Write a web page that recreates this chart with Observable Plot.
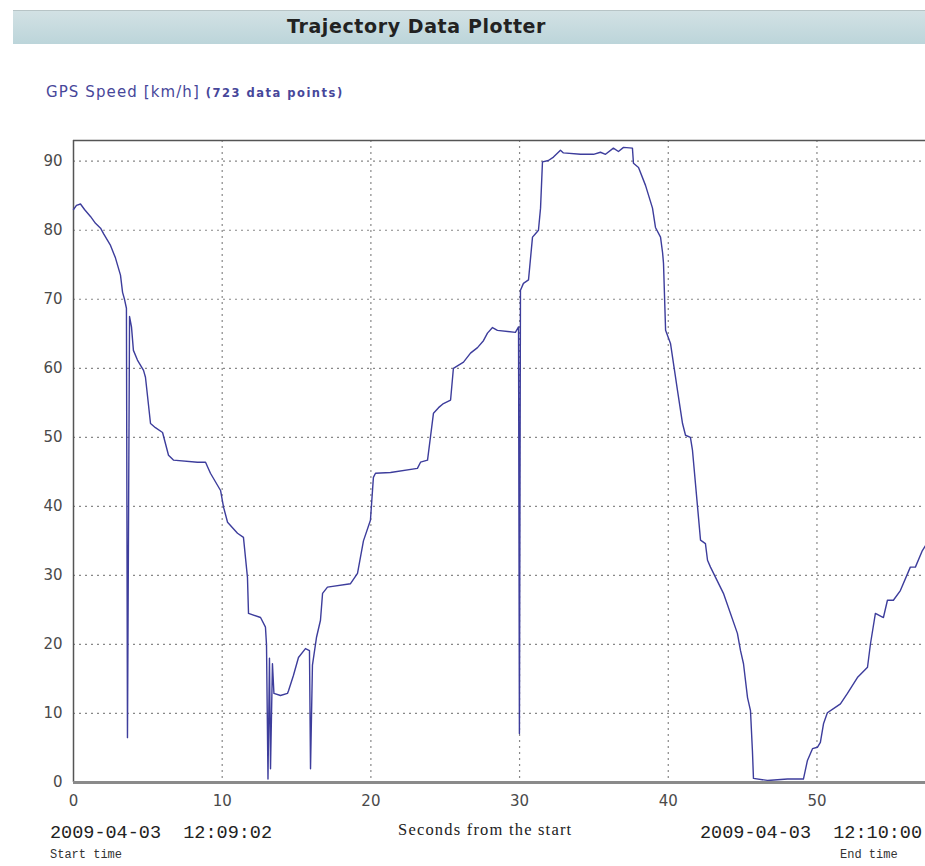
<!DOCTYPE html>
<html>
<head>
<meta charset="utf-8">
<script src="https://cdn.jsdelivr.net/npm/d3@7"></script>
<script src="https://cdn.jsdelivr.net/npm/@observablehq/plot@0.6"></script>
<style>
  html, body { margin: 0; padding: 0; background: #ffffff; width: 925px; height: 866px; overflow: hidden; }
  #page { position: relative; width: 925px; height: 866px; overflow: hidden; font-family: "DejaVu Sans", sans-serif; }
  #bar { position: absolute; left: 13px; top: 10px; width: 930px; height: 33px;
         background: linear-gradient(#d2e1e4, #bcd5da); border-top: 1px solid #b7c4c6; }
  #title { position: absolute; left: 287px; top: 15px; font-size: 19px; font-weight: bold; color: #222; letter-spacing: 0.6px; }
  #subtitle { position: absolute; left: 46px; top: 83px; font-size: 15px; color: #47479a; letter-spacing: 1.1px; }
  #subtitle small { font-size: 11.5px; font-weight: bold; letter-spacing: 1.5px; }
  #chart { position: absolute; left: 0; top: 120px; }
  .foot { position: absolute; color: #222; white-space: nowrap; line-height: 1.15; }
  .mono { font-family: "Liberation Mono", "DejaVu Sans Mono", monospace; font-size: 18.5px; }
  .serif { font-family: "Liberation Serif", serif; font-size: 16.5px; letter-spacing: 1.2px; }
  .small { font-family: "Liberation Mono", "DejaVu Sans Mono", monospace; font-size: 12px; color: #333; }
</style>
</head>
<body>
<div id="page">
  <div id="bar"></div>
  <div id="title">Trajectory Data Plotter</div>
  <div id="subtitle">GPS Speed [km/h] <small>(723 data points)</small></div>
  <div id="chart"></div>
  <div class="foot mono" style="left:50px; top:823px;">2009-04-03&nbsp;&nbsp;12:09:02</div>
  <div class="foot serif" style="left:398px; top:821px;">Seconds from the start</div>
  <div class="foot mono" style="left:700px; top:823px;">2009-04-03&nbsp;&nbsp;12:10:00</div>
  <div class="foot small" style="left:50px; top:849px;">Start time</div>
  <div class="foot small" style="left:840px; top:849px;">End time</div>
</div>
<script>
// Seconds from the start
const seconds = [
  0, 0.20, 0.47, 0.74, 1.14, 1.48, 1.82, 2.02, 2.49, 2.82, 3.16, 3.30, 3.43, 3.56, 3.63, 3.77, 3.90,
  4.03, 4.30, 4.71, 4.84, 5.18, 5.51, 5.99, 6.39, 6.72, 8.34, 8.88, 9.21, 9.89, 10.09, 10.36, 11.03,
  11.43, 11.70, 11.77, 12.58, 12.91, 12.98, 13.08, 13.18, 13.25, 13.38, 13.48, 13.92, 14.39, 14.46,
  14.79, 15.13, 15.60, 15.87, 15.94, 16.07, 16.34, 16.61, 16.75, 17.08, 18.63, 19.10, 19.50, 19.97,
  20.17, 20.31, 21.32, 23.13, 23.34, 23.81, 24.21, 24.55, 24.88, 25.36, 25.55, 26.23, 26.70, 27.17,
  27.57, 27.84, 28.18, 28.51, 29.72, 29.93, 29.99, 30.06, 30.26, 30.60, 30.87, 31.07, 31.27, 31.41,
  31.54, 31.94, 32.28, 32.75, 32.95, 34.10, 34.97, 35.44, 35.78, 36.31, 36.65, 36.99, 37.59, 37.66,
  38.00, 38.47, 38.94, 39.14, 39.48, 39.62, 39.68, 39.82, 40.15, 40.35, 40.62, 40.96, 41.16, 41.49,
  41.63, 42.17, 42.50, 42.64, 42.84, 43.71, 44.65, 44.86, 45.06, 45.33, 45.53, 45.66, 45.73, 46.67,
  48.02, 48.89, 49.09, 49.36, 49.70, 50.03, 50.23, 50.44, 50.70, 51.11, 51.58, 52.05, 52.72, 53.40,
  53.60, 53.93, 54.47, 54.74, 55.14, 55.61, 56.28, 56.62, 57.09, 57.30
];
// GPS speed in km/h
const speed = [
  83.0, 83.6, 83.8, 83.0, 82.0, 81.0, 80.3, 79.5, 77.8, 76.0, 73.5, 71.0, 70.0, 68.7, 6.5, 67.5, 66.0,
  62.6, 61.2, 59.7, 58.7, 52.0, 51.4, 50.7, 47.4, 46.7, 46.4, 46.4, 44.8, 42.3, 39.9, 37.7, 36.1,
  35.5, 29.7, 24.5, 23.9, 22.5, 20.0, 0.5, 18.0, 2.0, 17.2, 12.9, 12.6, 12.9, 13.3,
  15.5, 18.1, 19.4, 19.1, 2.0, 17.0, 21.0, 23.5, 27.4, 28.3, 28.8, 30.3, 35.0, 38.0,
  44.2, 44.8, 44.9, 45.5, 46.4, 46.7, 53.5, 54.3, 54.9, 55.4, 60.0, 60.9, 62.2, 63.0,
  64.0, 65.1, 65.9, 65.5, 65.2, 66.0, 7.1, 71.3, 72.3, 72.8, 79.0, 79.5, 80.0, 83.2,
  89.9, 90.1, 90.6, 91.6, 91.2, 91.0, 91.0, 91.3, 91.0, 91.9, 91.4, 92.0, 91.9, 89.7,
  89.1, 86.5, 83.2, 80.4, 79.0, 76.7, 75.2, 65.5, 63.6, 60.7, 56.8, 52.0, 50.3, 50.0,
  48.1, 35.1, 34.6, 32.2, 31.2, 27.4, 21.6, 19.1, 17.2, 12.3, 10.4, 4.6, 0.6, 0.3,
  0.5, 0.5, 0.5, 3.2, 4.9, 5.1, 5.8, 8.5, 10.1, 10.7, 11.4, 12.9, 15.2, 16.7,
  20.1, 24.5, 23.9, 26.4, 26.4, 27.8, 31.2, 31.2, 33.6, 34.3
];
const xTicks = [0, 10, 20, 30, 40, 50];
const yTicks = [0, 10, 20, 30, 40, 50, 60, 70, 80, 90];
const xDomain = [0, 57.3];
const yDomain = [0, 93];

const data = seconds.map((s, i) => ({s, v: speed[i]}));

const chart = Plot.plot({
  width: 925,
  height: 746,
  marginLeft: 73,
  marginRight: 0,
  marginTop: 20,
  marginBottom: 84,
  style: {background: "transparent", fontFamily: "DejaVu Sans, sans-serif", fontSize: "15px", color: "#444"},
  x: {domain: xDomain, ticks: xTicks, label: null},
  y: {domain: yDomain, ticks: yTicks, label: null},
  marks: [
    Plot.gridX(xTicks.filter(d => d > 0), {stroke: "#888", strokeOpacity: 1, strokeDasharray: "2,4", strokeWidth: 1.2}),
    Plot.gridY(yTicks.filter(d => d > 0), {stroke: "#888", strokeOpacity: 1, strokeDasharray: "2,4", strokeWidth: 1.2}),
    Plot.ruleX([0], {stroke: "#555", strokeWidth: 1.5}),
    Plot.ruleY([yDomain[1]], {stroke: "#555", strokeWidth: 1.5}),
    Plot.lineY(data, {x: "s", y: "v", stroke: "#3d3d9c", strokeWidth: 1.4}),
    Plot.ruleY([0], {stroke: "#8a8a8a", strokeWidth: 3}),
    Plot.axisY(yTicks, {tickSize: 0, tickPadding: 11, fill: "#4a4a4a", fontSize: 15}),
    Plot.axisX(xTicks, {tickSize: 0, tickPadding: 13, fill: "#4a4a4a", fontSize: 15})
  ]
});
document.getElementById("chart").appendChild(chart);
</script>
</body>
</html>
